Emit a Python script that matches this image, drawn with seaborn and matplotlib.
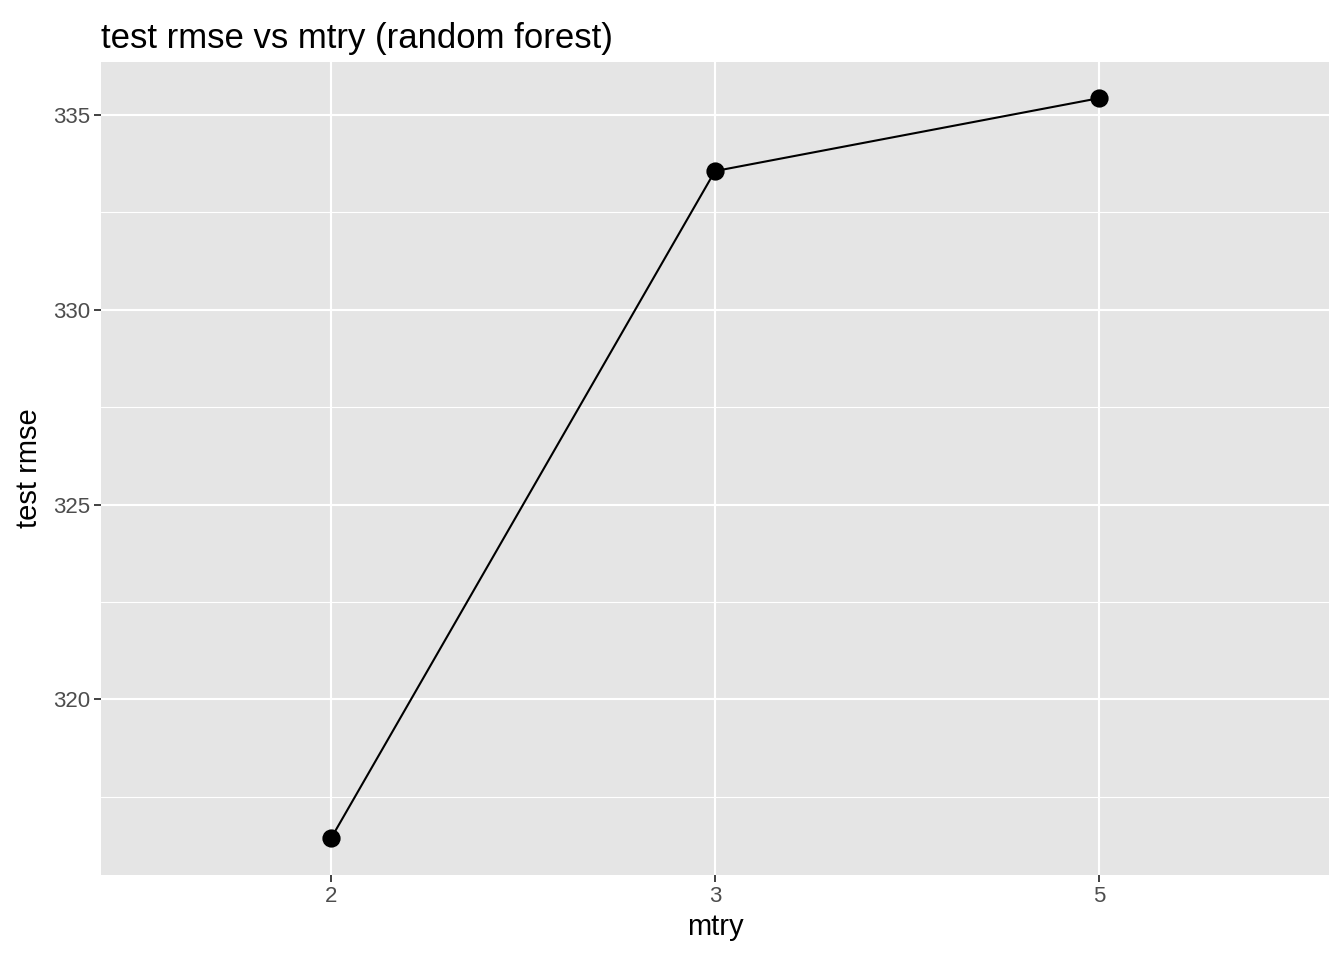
import matplotlib
matplotlib.use("Agg")
import matplotlib.pyplot as plt
import seaborn as sns
import pandas as pd
import numpy as np
from matplotlib.ticker import MultipleLocator

mtry = ["2", "3", "5"]
test_rmse = [316.44, 333.56, 335.43]

df = pd.DataFrame({"mtry": mtry, "test_rmse": test_rmse})

sns.set_theme(style="darkgrid")
plt.rcParams["font.family"] = ["Liberation Sans", "DejaVu Sans"]

fig = plt.figure(figsize=(13.44, 9.6), dpi=100)
ax = fig.add_axes([101 / 1344, 1 - 875 / 960, (1329 - 101) / 1344, (875 - 62) / 960])
ax.set_facecolor("#e5e5e5")

sns.pointplot(data=df, x="mtry", y="test_rmse", color="black", errorbar=None,
              markersize=12, linewidth=1.5, ax=ax, zorder=3)

ax.set_xlim(-0.6, 2.6)
ax.set_ylim(315.49, 336.36)
ax.yaxis.set_major_locator(MultipleLocator(5))
ax.yaxis.set_minor_locator(MultipleLocator(2.5))

ax.grid(which="major", color="white", linewidth=1.5)
ax.grid(which="minor", axis="y", color="white", linewidth=0.8)
ax.set_axisbelow(True)
for s in ax.spines.values():
    s.set_visible(False)

ax.tick_params(axis="both", which="major", length=5, width=1.3, color="#333333",
               labelsize=16, labelcolor="#4d4d4d", pad=3)
ax.tick_params(axis="both", which="minor", length=0)
ax.tick_params(axis="x", bottom=True)
ax.tick_params(axis="y", left=True)

ax.set_xlabel("mtry", fontsize=21, color="black", labelpad=4)
ax.set_ylabel("test rmse", fontsize=21, color="black", labelpad=7)
ax.set_title("test rmse vs mtry (random forest)", fontsize=25, loc="left", color="black", pad=10)

fig.savefig("out.png", dpi=100)
